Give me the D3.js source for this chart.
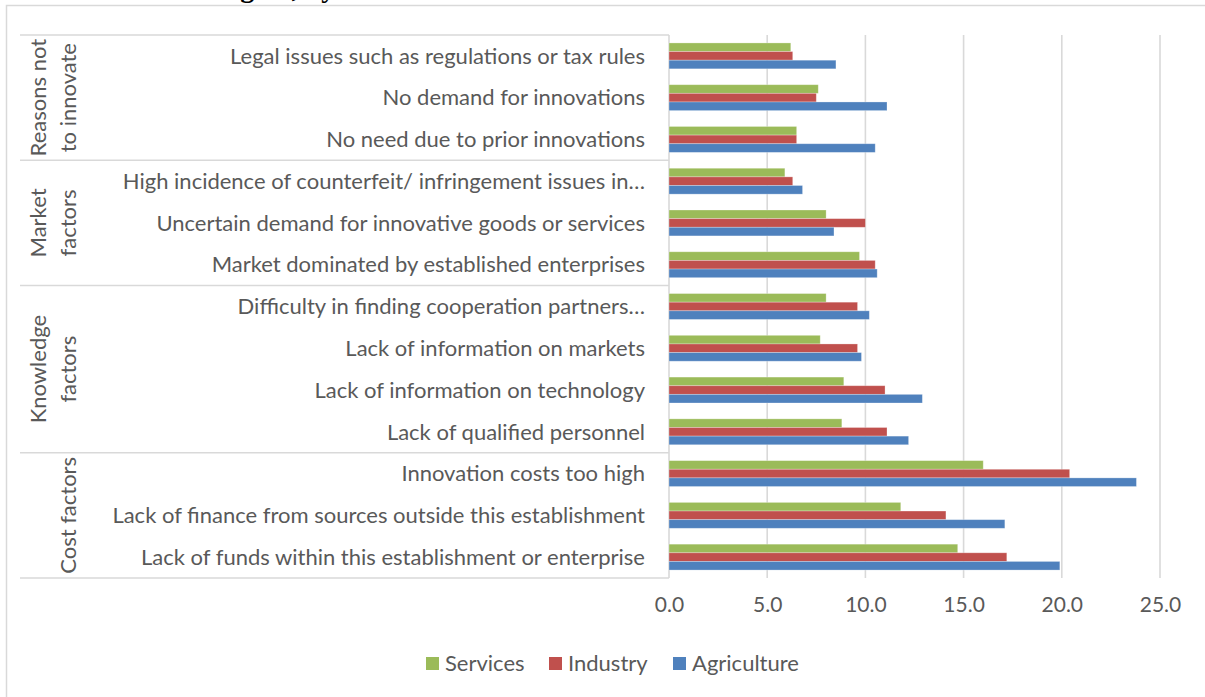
<!DOCTYPE html>
<html>
<head>
<meta charset="utf-8">
<script src="https://cdn.jsdelivr.net/npm/d3@7"></script>
<style>
  body { margin: 0; background: #fff; }
  svg { display: block; }
  text { font-family: Lato, "Open Sans", sans-serif; fill: #595959; }
</style>
</head>
<body>
<div id="chart"></div>
<script>
// categories listed top to bottom as they appear
const categories = [
    "Legal issues such as regulations or tax rules",
    "No demand for innovations",
    "No need due to prior innovations",
    "High incidence of counterfeit/ infringement issues in\u2026",
    "Uncertain demand for innovative goods or services",
    "Market dominated by established enterprises",
    "Difficulty in finding cooperation partners\u2026",
    "Lack of information on markets",
    "Lack of information on technology",
    "Lack of qualified personnel",
    "Innovation costs too high",
    "Lack of finance from sources outside this establishment",
    "Lack of funds within this establishment or enterprise"
];

const services    = [6.2, 7.6, 6.5, 5.9, 8.0, 9.7, 8.0, 7.7, 8.9, 8.8, 16.0, 11.8, 14.7];
const industry    = [6.3, 7.5, 6.5, 6.3, 10.0, 10.5, 9.6, 9.6, 11.0, 11.1, 20.4, 14.1, 17.2];
const agriculture = [8.5, 11.1, 10.5, 6.8, 8.4, 10.6, 10.2, 9.8, 12.9, 12.2, 23.8, 17.1, 19.9];

const seriesNames = ["Services", "Industry", "Agriculture"];
const seriesColors = ["#9BBB59", "#C0504D", "#4F81BD"];

// group labels (lines) and how many categories each spans
const groupLabels = [["Reasons not", "to innovate"], ["Market", "factors"], ["Knowledge", "factors"], ["Cost factors"]];
const groupSizes = [3, 3, 4, 3];

const xTicks = [0, 5, 10, 15, 20, 25];

const W = 1205, H = 697;

var svg = d3.select("#chart").append("svg")
    .attr("width", W)
    .attr("height", H);

// cut-off title above the chart box (only descenders show)
svg.append("text")
    .attr("x", 216)
    .attr("y", -3)
    .style("font-family", "'Liberation Serif', 'Times New Roman', serif")
    .style("font-weight", "bold")
    .style("font-size", "28px")
    .style("fill", "#000")
    .text("region, by sector");

// chart border
svg.append("rect")
    .attr("x", 6.5).attr("y", 5.5)
    .attr("width", W).attr("height", H)
    .attr("fill", "none")
    .attr("stroke", "#d9d9d9")
    .attr("stroke-width", 1.5);

var x = d3.scaleLinear().domain([0, 25]).range([669, 1160]);

var y = d3.scaleBand().domain(categories).range([35, 578]);

var groupH = y.bandwidth() * 0.62;
var ySeries = d3.scaleBand().domain(seriesNames).range([0, groupH]);

// gridlines
svg.append("g")
    .selectAll("line")
    .data(xTicks)
    .enter()
    .append("line")
    .attr("x1", d => x(d)).attr("x2", d => x(d))
    .attr("y1", 35).attr("y2", 578)
    .attr("stroke", "#d9d9d9")
    .attr("stroke-width", 1.6);

// bars
var seriesData = [services, industry, agriculture];
seriesData.forEach(function(vals, s) {
    svg.append("g")
        .selectAll("rect")
        .data(vals)
        .enter()
        .append("rect")
        .attr("x", x(0))
        .attr("y", (d, i) => y(categories[i]) + (y.bandwidth() - groupH) / 2 + ySeries(seriesNames[s]))
        .attr("width", d => x(d) - x(0))
        .attr("height", ySeries.bandwidth())
        .attr("fill", seriesColors[s])
        .attr("stroke", "#fff")
        .attr("stroke-opacity", 0.35)
        .attr("stroke-width", 0.8);
});

// category labels
svg.append("g")
    .selectAll("text")
    .data(categories)
    .enter()
    .append("text")
    .attr("x", 645)
    .attr("y", d => y(d) + y.bandwidth() / 2)
    .attr("dy", "0.35em")
    .attr("text-anchor", "end")
    .style("font-size", "22px")
    .text(d => d);

// group separators and rotated group labels
var start = 0;
var bounds = [0];
groupSizes.forEach(function(n) { start += n; bounds.push(start); });

svg.append("g")
    .selectAll("line")
    .data(bounds)
    .enter()
    .append("line")
    .attr("x1", 20).attr("x2", 669)
    .attr("y1", d => d < categories.length ? y(categories[d]) : y.range()[1])
    .attr("y2", d => d < categories.length ? y(categories[d]) : y.range()[1])
    .attr("stroke", "#d9d9d9")
    .attr("stroke-width", 1.5);

groupLabels.forEach(function(lines, g) {
    var top = y(categories[bounds[g]]);
    var bottom = bounds[g + 1] < categories.length ? y(categories[bounds[g + 1]]) : y.range()[1];
    var cy = (top + bottom) / 2;
    var t = svg.append("text")
        .attr("transform", "translate(0," + cy + ") rotate(-90)")
        .attr("text-anchor", "middle")
        .style("font-size", "22px");
    lines.forEach(function(line, k) {
        var cx = 68 - (lines.length - 1 - k) * 30;
        t.append("tspan")
            .attr("x", 0)
            .attr("y", cx)
            .attr("dy", "0.35em")
            .text(line);
    });
});

// x axis labels
var xAxis = d3.axisBottom(x)
    .tickValues(xTicks)
    .tickFormat(d3.format(".1f"))
    .tickSize(0)
    .tickPadding(0);

var gx = svg.append("g")
    .attr("transform", "translate(0,597)")
    .call(xAxis);
gx.select(".domain").remove();
gx.selectAll("text")
    .style("font-family", "Lato, 'Open Sans', sans-serif")
    .style("font-size", "21px")
    .attr("fill", "#595959");

// legend
var legendX = [426, 549, 673];
var legend = svg.append("g");
seriesNames.forEach(function(name, i) {
    legend.append("rect")
        .attr("x", legendX[i]).attr("y", 657)
        .attr("width", 13).attr("height", 13)
        .attr("fill", seriesColors[i]);
    legend.append("text")
        .attr("x", legendX[i] + 19)
        .attr("y", 663.5)
        .attr("dy", "0.35em")
        .style("font-size", "22px")
        .text(name);
});
</script>
</body>
</html>
